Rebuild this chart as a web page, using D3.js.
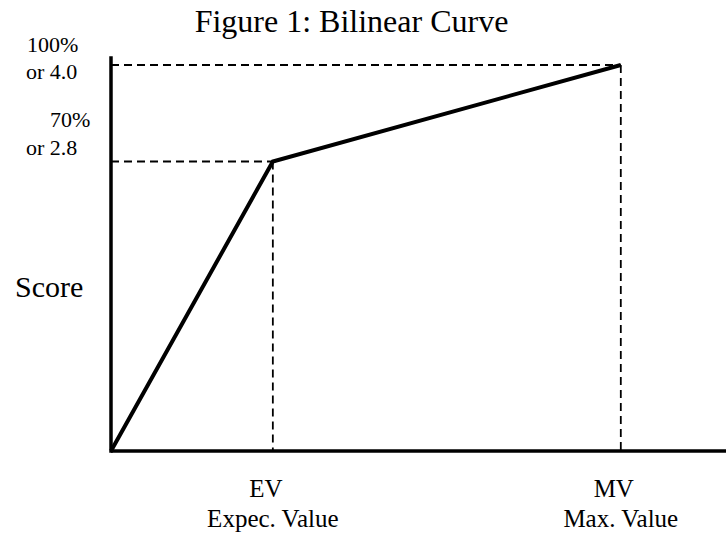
<!DOCTYPE html>
<html><head><meta charset="utf-8">
<script src="https://cdn.jsdelivr.net/npm/d3@7"></script>
<style>body{margin:0;background:#fff}svg{display:block}text{font-family:"Liberation Serif","Times New Roman",serif;fill:#000}</style>
</head><body>
<script>
// Data (positions; the drawing is not to scale)
const pointNames = ["origin", "EV", "MV"];
const xValues = [0, 1, 3.15];          // relative position along the value axis
const scoreValues = [0, 3.0, 4.0];     // drawn height on a 0–4 score axis
const yTickLines = [["100%", "or 4.0"], ["70%", "or 2.8"]];
const xTickLines = [["EV", "Expec. Value"], ["MV", "Max. Value"]];
const title = "Figure 1: Bilinear Curve";
const yTitle = "Score";

const W = 726, H = 533;
const svg = d3.select("body").append("svg").attr("width", W).attr("height", H);

const x = d3.scaleLinear().domain([0, 3.8]).range([111, 726]);
const y = d3.scaleLinear().domain([0, 4.0]).range([451, 65]);

const pts = xValues.map((v, i) => ({name: pointNames[i], x: v, y: scoreValues[i]}));

// dashed guides
const guides = svg.append("g").attr("stroke", "#000").attr("stroke-width", 1.8).attr("stroke-dasharray", "8,5").attr("fill", "none");
pts.slice(1).forEach(p => {
  guides.append("line").attr("x1", x(0)).attr("x2", x(p.x)).attr("y1", y(p.y)).attr("y2", y(p.y));
  guides.append("line").attr("x1", x(p.x)).attr("x2", x(p.x)).attr("y1", y(p.y)).attr("y2", y(0));
});

// axes
svg.append("line").attr("x1", x(0)).attr("x2", x(3.8)).attr("y1", y(0)).attr("y2", y(0))
  .attr("stroke", "#000").attr("stroke-width", 3.5);
svg.append("line").attr("x1", x(0)).attr("x2", x(0)).attr("y1", y(0) + 1.7).attr("y2", y(4.09))
  .attr("stroke", "#000").attr("stroke-width", 3.5);

// bilinear curve
svg.append("path").datum(pts)
  .attr("d", d3.line().x(d => x(d.x)).y(d => y(d.y)))
  .attr("fill", "none").attr("stroke", "#000").attr("stroke-width", 4).attr("stroke-linejoin", "miter");

// title
svg.append("text").attr("x", 351.5).attr("y", 32).attr("text-anchor", "middle").attr("font-size", 32).text(title);
svg.append("text").attr("x", 15).attr("y", 297).attr("font-size", 30).text(yTitle);

// y tick labels
const yl = svg.append("g").attr("font-size", 22);
yl.append("text").attr("x", 27).attr("y", 52).text(yTickLines[0][0]);
yl.append("text").attr("x", 26).attr("y", 79).text(yTickLines[0][1]);
yl.append("text").attr("x", 50).attr("y", 127).text(yTickLines[1][0]);
yl.append("text").attr("x", 26).attr("y", 155).text(yTickLines[1][1]);

// x tick labels
const xl = svg.append("g").attr("font-size", 25).attr("text-anchor", "middle");
pts.slice(1).forEach((p, i) => {
  xl.append("text").attr("x", x(p.x) - 7).attr("y", 497).text(xTickLines[i][0]);
  xl.append("text").attr("x", x(p.x)).attr("y", 527).text(xTickLines[i][1]);
});
</script>
</body></html>
